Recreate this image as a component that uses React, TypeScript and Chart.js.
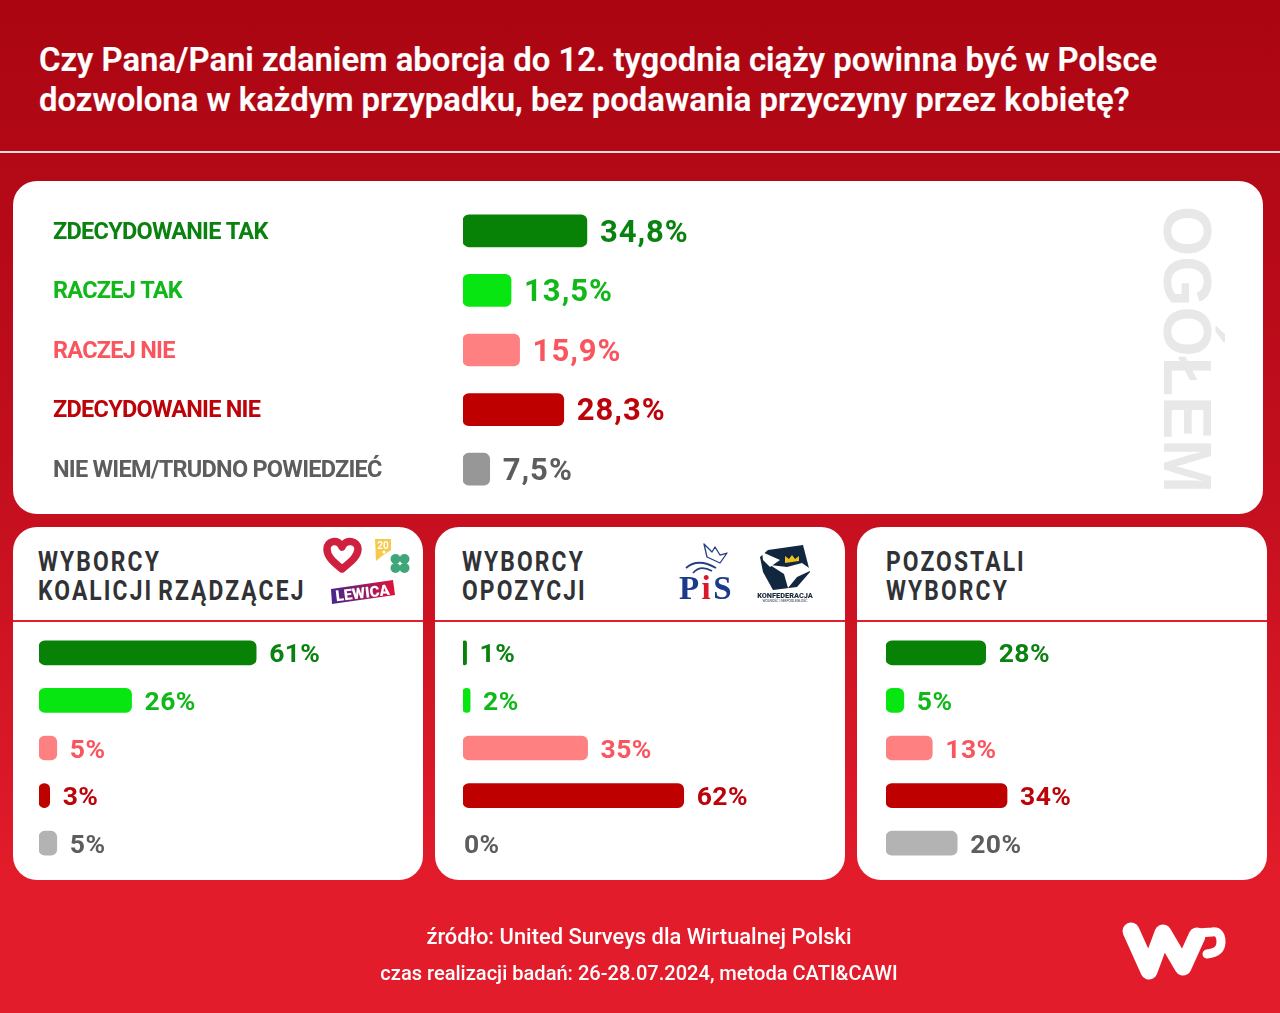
import React, { useEffect, useRef } from "react";
import { Chart, registerables } from "chart.js";

Chart.register(...registerables);

const categories = ["ZDECYDOWANIE TAK", "RACZEJ TAK", "RACZEJ NIE", "ZDECYDOWANIE NIE", "NIE WIEM/TRUDNO POWIEDZIEĆ"];
const overallValues = [34.8, 13.5, 15.9, 28.3, 7.5];
const coalitionValues = [61, 26, 5, 3, 5];
const oppositionValues = [1, 2, 35, 62, 0];
const otherValues = [28, 5, 13, 34, 20];
const overallBarColors = ["#078207", "#08e612", "#ff8080", "#bf0000", "#979797"];
const groupBarColors = ["#078207", "#08e612", "#ff8080", "#bf0000", "#b3b3b3"];
const textColors = ["#0a820f", "#10b818", "#f9555e", "#bb0309", "#5d5d5d"];

const fmtOverall = (v: number) => v.toFixed(1).replace(".", ",") + "%";
const fmtGroup = (v: number) => v + "%";

const valueLabelPlugin = {
  id: "valueLabels",
  beforeDraw(chart: any) {
    (chart.ctx as any).letterSpacing = "-0.75px";
  },
  afterDatasetsDraw(chart: any, _a: any, opts: any) {
    const { ctx } = chart;
    const meta = chart.getDatasetMeta(0);
    ctx.save();
    ctx.font = opts.font;
    (ctx as any).letterSpacing = opts.spacing;
    ctx.textAlign = "left";
    ctx.textBaseline = "middle";
    meta.data.forEach((el: any, i: number) => {
      const v = chart.data.datasets[0].data[i];
      ctx.fillStyle = textColors[i];
      ctx.fillText(opts.format(v), el.x + (v > 0 ? opts.gap : 1), el.y + opts.dy);
    });
    ctx.restore();
  },
};

function BarChart(props: {
  left: number; top: number; width: number; height: number; axisWidth: number;
  values: number[]; colors: string[]; thickness: number; radius: number;
  font: string; spacing: string; gap: number; dy: number; format: (v: number) => string;
}) {
  const ref = useRef<HTMLCanvasElement>(null);
  useEffect(() => {
    const { axisWidth } = props;
    const chart = new Chart(ref.current as HTMLCanvasElement, {
      type: "bar",
      data: {
        labels: categories,
        datasets: [{
          data: props.values,
          backgroundColor: (c: any) => (c.raw > 0 ? props.colors[c.dataIndex] : "rgba(0,0,0,0)"),
          barThickness: props.thickness,
          borderRadius: props.radius,
          borderSkipped: false,
        }],
      },
      options: {
        indexAxis: "y",
        animation: false,
        responsive: false,
        devicePixelRatio: 1,
        layout: { padding: 0 },
        events: [],
        scales: {
          x: { display: false, min: 0, max: 100 },
          y: {
            display: axisWidth > 0,
            afterFit: (s: any) => { s.width = axisWidth; s.paddingTop = 0; s.paddingBottom = 0; },
            grid: { display: false },
            border: { display: false },
            ticks: {
              crossAlign: "far",
              padding: 0,
              labelOffset: 2,
              autoSkip: false,
              font: { family: "Roboto", size: 23.5, weight: "700" },
              color: (c: any) => textColors[c.index],
            },
          },
        },
        plugins: {
          legend: { display: false },
          tooltip: { enabled: false },
          valueLabels: { font: props.font, spacing: props.spacing, gap: props.gap, dy: props.dy, format: props.format },
        },
      } as any,
      plugins: [valueLabelPlugin],
    });
    return () => chart.destroy();
  }, []);
  return (
    <canvas
      ref={ref}
      width={props.width}
      height={props.height}
      style={{ position: "absolute", left: props.left, top: props.top, width: props.width, height: props.height }}
    />
  );
}

const T = (p: { x: number; y: number; s: React.CSSProperties; children: React.ReactNode }) => (
  <div style={{ position: "absolute", left: p.x, top: p.y, whiteSpace: "nowrap", fontFamily: "Roboto", ...p.s }}>{p.children}</div>
);

const card = (x: number, y: number, w: number, h: number, r: number): React.CSSProperties => ({
  position: "absolute", left: x, top: y, width: w, height: h, borderRadius: r, background: "#fff",
});

const groupTitle: React.CSSProperties = {
  fontWeight: 700, fontSize: 28, lineHeight: "29px", color: "#303236", letterSpacing: 2.6, wordSpacing: -3.5,
  transform: "scaleX(0.815)", transformOrigin: "left top",
};

function GroupCard({ x, titleX, lines }: { x: number; titleX: number; lines: string[] }) {
  return (
    <>
      <div style={card(x, 527, 410, 353, 24)} />
      <div style={{ position: "absolute", left: x, top: 620, width: 410, height: 2, background: "#dc2230" }} />
      <T x={titleX} y={547} s={groupTitle}>{lines[0]}<br />{lines[1]}</T>
    </>
  );
}

function Logos() {
  return (
    <svg width={1280} height={1013} style={{ position: "absolute", left: 0, top: 0 }}>
      {/* Koalicja */}
      <path d="M342 569 C332 561 327 556 327 549 C327 541 338 538 342 547 C346 538 358 541 358 549 C358 556 352 561 342 569 Z" fill="#fff" stroke="#d0203f" strokeWidth={7.5} strokeLinejoin="round" />
      <polygon points="375,539 391,539 391,550 382,556 376,561" fill="#f7c94a" />
      <text x={383} y={549} fontFamily="Roboto" fontWeight={700} fontSize={10} fill="#fff" textAnchor="middle">20</text>
      <circle cx={384} cy={552} r={1.6} fill="#fff" />
      <g fill="#3fa67a">
        <circle cx={395.5} cy={559} r={5} /><circle cx={404.5} cy={559} r={5} />
        <circle cx={395.5} cy={568} r={5} /><circle cx={404.5} cy={568} r={5} />
      </g>
      <defs>
        <linearGradient id="lew" x1="0" x2="1" y1="0" y2="0"><stop offset="0" stopColor="#45278c" /><stop offset="1" stopColor="#e0123a" /></linearGradient>
      </defs>
      <polygon points="331,589 393,580 395,595 332,604" fill="url(#lew)" />
      <text x={363} y={598} fontFamily="Roboto" fontWeight={900} fontSize={15} fill="#fff" textAnchor="middle" transform="rotate(-7 363 596)">LEWICA</text>
      {/* PiS */}
      <path d="M704 544 L712 552 L715 547 L720 555 L727 553 L720 563 L707 557 Z" fill="#fff" stroke="#24407f" strokeWidth={1.3} strokeLinejoin="round" />
      <path d="M686 568 C694 561 704 561 716 568" fill="none" stroke="#24407f" strokeWidth={1.8} />
      <path d="M693 573 C698 567 705 567 712 571" fill="none" stroke="#24407f" strokeWidth={1.8} />
      <text x={679} y={599} fontFamily="Liberation Serif" fontWeight={700} fontSize={33} fill="#1b3a8a" letterSpacing={2.4}>P<tspan fill="#d9182d">i</tspan>S</text>
      {/* Konfederacja */}
      <polygon points="768,550 803,545 810,572 797,587 773,590 763,572 760,557" fill="#11263f" />
      <polygon points="762,552 780,560 770,567 763,560" fill="#fff" />
      <polygon points="770,565 787,567 802,563 812,570 797,577 788,588 784,574" fill="#fff" />
      <polygon points="785,563 785,556 789,559 792,555 795,559 799,556 799,561" fill="#f0c020" />
      <text x={785} y={598} fontFamily="Roboto" fontWeight={900} fontSize={7.4} fill="#1b2a3c" textAnchor="middle">KONFEDERACJA</text>
      <text x={785} y={602} fontFamily="Roboto" fontWeight={400} fontSize={3.4} fill="#1b2a3c" textAnchor="middle">WOLNOŚĆ I NIEPODLEGŁOŚĆ</text>
      {/* WP */}
      <path d="M1131 931 L1149 971 L1163 933 L1183 967 L1197 936" fill="none" stroke="#fff" strokeWidth={17} strokeLinecap="round" strokeLinejoin="round" />
      <path d="M1198 933 L1212 932 C1219 931 1221 936 1221 942 C1221 950 1216 953 1207 954" fill="none" stroke="#fff" strokeWidth={9} strokeLinecap="round" />
    </svg>
  );
}

export default function App() {
  return (
    <div style={{ position: "absolute", left: 0, top: 0, width: 1280, height: 1013, overflow: "hidden", background: "linear-gradient(180deg,#ab0512 0%,#c10e1d 45%,#e31c2b 88%,#e31c2b 100%)" }}>
      <T x={39} y={40} s={{ fontWeight: 600, fontSize: 32.85, lineHeight: "40px", color: "#fff", WebkitTextStroke: "0.2px #fff" }}>
        Czy Pana/Pani zdaniem aborcja do 12. tygodnia ciąży powinna być w Polsce<br />
        dozwolona w każdym przypadku, bez podawania przyczyny przez kobietę?
      </T>
      <div style={{ position: "absolute", left: 0, top: 151, width: 1280, height: 2, background: "#f3dcde" }} />

      <div style={card(13, 181, 1250, 333, 24)} />
      <T x={1150} y={206} s={{ fontFamily: "Liberation Sans", fontWeight: 700, fontSize: 68, lineHeight: "76px", color: "#e8e8e8", writingMode: "vertical-rl", transform: "scaleY(0.95)", transformOrigin: "top" }}>OGÓŁEM</T>

      <BarChart left={53} top={201} width={766} height={298} axisWidth={410} values={overallValues} colors={overallBarColors}
        thickness={32} radius={6} font="700 31px Roboto" spacing="1px" gap={13} dy={3} format={fmtOverall} />

      <GroupCard x={13} titleX={38} lines={["WYBORCY", "KOALICJI RZĄDZĄCEJ"]} />
      <GroupCard x={435} titleX={462} lines={["WYBORCY", "OPOZYCJI"]} />
      <GroupCard x={857} titleX={885.5} lines={["POZOSTALI", "WYBORCY"]} />

      <BarChart left={39} top={629} width={356} height={238} axisWidth={0} values={coalitionValues} colors={groupBarColors}
        thickness={24} radius={6} font="700 26.5px Roboto" spacing="0.4px" gap={13} dy={3} format={fmtGroup} />
      <BarChart left={463} top={629} width={356} height={238} axisWidth={0} values={oppositionValues} colors={groupBarColors}
        thickness={24} radius={6} font="700 26.5px Roboto" spacing="0.4px" gap={13} dy={3} format={fmtGroup} />
      <BarChart left={886} top={629} width={356} height={238} axisWidth={0} values={otherValues} colors={groupBarColors}
        thickness={24} radius={6} font="700 26.5px Roboto" spacing="0.4px" gap={13} dy={3} format={fmtGroup} />

      <Logos />

      <T x={0} y={922} s={{ width: 1278, textAlign: "center", fontWeight: 500, fontSize: 21.9, lineHeight: "30px", color: "#fff" }}>źródło: United Surveys dla Wirtualnej Polski</T>
      <T x={0} y={958} s={{ width: 1278, textAlign: "center", fontWeight: 500, fontSize: 20.07, lineHeight: "30px", color: "#fff" }}>czas realizacji badań: 26-28.07.2024, metoda CATI&amp;CAWI</T>
    </div>
  );
}
